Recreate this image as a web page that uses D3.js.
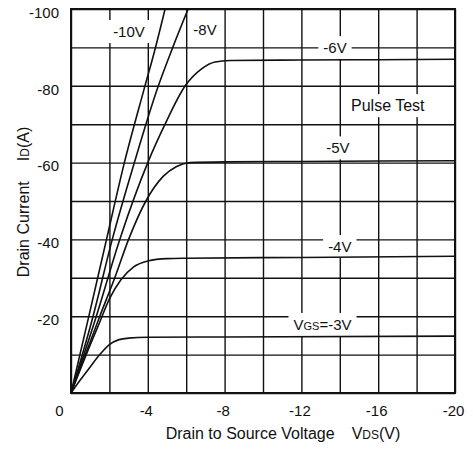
<!DOCTYPE html>
<html><head><meta charset="utf-8">
<script src="https://cdn.jsdelivr.net/npm/d3@7"></script>
<style>
html,body{margin:0;padding:0;background:#fff;}
svg{display:block;font-family:"Liberation Sans",Arial,sans-serif;}
</style></head><body>
<svg id="chart" width="473" height="450"></svg>
<script>
// Output characteristics: drain current vs drain-to-source voltage per gate voltage
const vgsLabels = ["-10V", "-8V", "-6V", "-5V", "-4V", "VGS=-3V"];

const vdsM10 = [0, -1, -1.85, -2.78, -3.8, -4.35, -4.9];
const idM10  = [0, -21.5, -40, -60, -79, -89, -100];

const vdsM8 = [0, -1.15, -2.15, -3.3, -4.55, -5.3, -6.1];
const idM8  = [0, -20, -40, -60, -80, -90, -100];

const vdsM6 = [0, -1.32, -2.54, -4.0, -4.9, -5.95, -6.8, -7.5, -8.3, -12, -16, -20];
const idM6  = [0, -20, -40, -60, -70, -80, -84.4, -86.2, -86.6, -86.7, -86.8, -86.9];

const vdsM5 = [0, -0.75, -1.5, -2.28, -3.0, -3.9, -4.8, -5.5, -6.2, -8, -12, -20];
const idM5  = [0, -10, -20, -30, -40, -50, -56.4, -59.0, -60.0, -60.2, -60.3, -60.5];

const vdsM4 = [0, -1, -1.5, -2, -2.6, -3.25, -4, -5, -6, -12, -20];
const idM4  = [0, -12.5, -18.5, -24.5, -29.5, -32.8, -34.4, -35.0, -35.1, -35.3, -35.6];

const vdsM3 = [0, -0.5, -1, -1.5, -2, -2.5, -3, -4, -8, -20];
const idM3  = [0, -3.5, -6.8, -10, -12.6, -13.9, -14.3, -14.5, -14.6, -14.8];

const xGrid = [0, -2, -4, -6, -8, -10, -12, -14, -16, -18, -20];
const xTickLabels = [0, -4, -8, -12, -16, -20];
const yGrid = [0, -10, -20, -30, -40, -50, -60, -70, -80, -90, -100];
const yTickLabels = [-20, -40, -60, -80, -100];

const series = [
  {vds: vdsM10, id: idM10},
  {vds: vdsM8, id: idM8},
  {vds: vdsM6, id: idM6},
  {vds: vdsM5, id: idM5},
  {vds: vdsM4, id: idM4},
  {vds: vdsM3, id: idM3}
];

const svg = d3.select("#chart");
const L = 71, T = 9, PW = 384, PH = 384;
const x = d3.scaleLinear().domain([0, -20]).range([L, L + PW]);
const y = d3.scaleLinear().domain([0, -100]).range([T + PH, T]);
const ink = "#111";

// grid + tick labels
const gx = svg.append("g").attr("transform", `translate(0,${T + PH})`)
  .call(d3.axisBottom(x).tickValues(xGrid).tickSize(-PH).tickPadding(12)
    .tickFormat(d => xTickLabels.includes(d) ? String(d) : ""));
gx.select(".domain").remove();
gx.selectAll(".tick line").attr("stroke", ink).attr("stroke-width", 1.4);
gx.selectAll(".tick text").attr("fill", ink).attr("font-size", 15)
  .attr("font-family", "Liberation Sans, Arial, sans-serif")
  .attr("dx", d => d === 0 ? -12 : -2);

const gy = svg.append("g").attr("transform", `translate(${L},0)`)
  .call(d3.axisLeft(y).tickValues(yGrid).tickSize(-PW).tickPadding(12)
    .tickFormat(d => yTickLabels.includes(d) ? String(d) : ""));
gy.select(".domain").remove();
gy.selectAll(".tick line").attr("stroke", ink).attr("stroke-width", 1.4);
gy.selectAll(".tick text").attr("fill", ink).attr("font-size", 15)
  .attr("font-family", "Liberation Sans, Arial, sans-serif")
  .attr("dy", "0.55em");

// in-plot annotations (gate voltages and test note), each clears the grid behind it
const notes = [
  {text: vgsLabels[0], vx: -3.02, vy: -92.7, size: 15},
  {text: vgsLabels[1], vx: -6.98, vy: -93.2, size: 15},
  {text: vgsLabels[2], vx: -13.75, vy: -88.5, size: 15},
  {text: "Pulse Test", vx: -16.5, vy: -73.4, size: 16},
  {text: vgsLabels[3], vx: -13.9, vy: -62.4, size: 15},
  {text: vgsLabels[4], vx: -14.0, vy: -36.7, size: 15},
  {text: vgsLabels[5], vx: -13.1, vy: -16.4, size: 15}
];
const noteG = svg.append("g");
notes.forEach(n => {
  const g = noteG.append("g");
  const rect = g.append("rect").attr("fill", "#fff");
  const t = g.append("text").attr("x", x(n.vx)).attr("y", y(n.vy))
    .attr("text-anchor", "middle").attr("font-size", n.size).attr("fill", ink);
  if (n.text.startsWith("VGS")) {
    t.append("tspan").text("V");
    t.append("tspan").attr("font-size", 11).text("GS");
    t.append("tspan").text("=-3V");
  } else {
    t.text(n.text);
  }
  const b = t.node().getBBox();
  rect.attr("x", b.x - 5).attr("y", b.y - 3).attr("width", b.width + 10).attr("height", b.height + 6);
});

// curves
svg.append("defs").append("clipPath").attr("id", "plotClip")
  .append("rect").attr("x", L).attr("y", T).attr("width", PW).attr("height", PH);
const line = d3.line().x(d => x(d[0])).y(d => y(d[1])).curve(d3.curveMonotoneX);
svg.append("g").attr("clip-path", "url(#plotClip)")
  .selectAll("path").data(series).join("path")
  .attr("d", s => line(d3.zip(s.vds, s.id)))
  .attr("fill", "none").attr("stroke", ink).attr("stroke-width", 1.6)
  .attr("stroke-linejoin", "round");

// frame
svg.append("rect").attr("x", L).attr("y", T).attr("width", PW).attr("height", PH)
  .attr("fill", "none").attr("stroke", ink).attr("stroke-width", 2);

// axis titles
const xt = svg.append("text").attr("x", 283).attr("y", 439)
  .attr("text-anchor", "middle").attr("font-size", 16).attr("fill", ink);
xt.append("tspan").text("Drain to Source Voltage");
xt.append("tspan").attr("dx", 17).text("V");
xt.append("tspan").attr("font-size", 12).text("DS");
xt.append("tspan").text("(V)");

const yt = svg.append("text").attr("transform", "translate(29,202) rotate(-90)")
  .attr("text-anchor", "middle").attr("font-size", 16).attr("fill", ink);
yt.append("tspan").text("Drain Current");
yt.append("tspan").attr("dx", 20).text("I");
yt.append("tspan").attr("font-size", 12).text("D");
yt.append("tspan").text("(A)");
</script>
</body></html>
